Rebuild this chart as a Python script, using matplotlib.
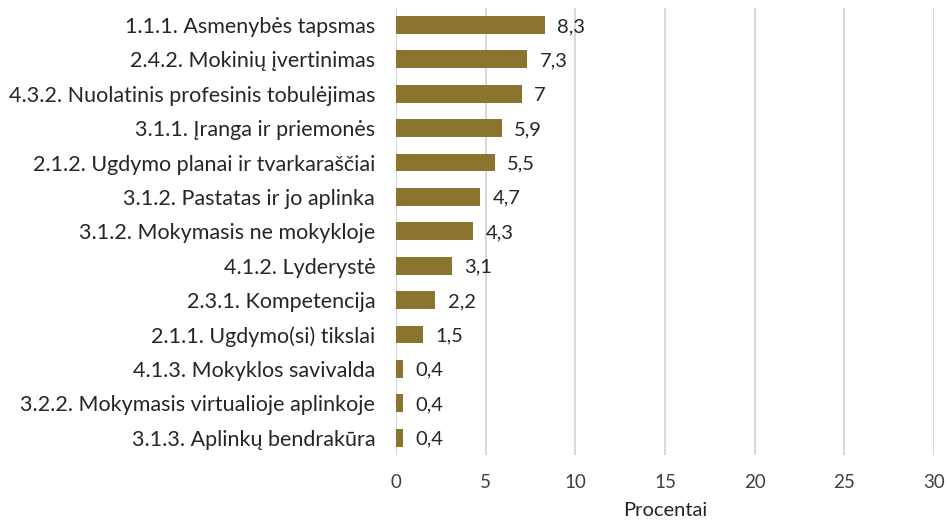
import matplotlib.pyplot as plt

categories = [
    "1.1.1. Asmenybės tapsmas",
    "2.4.2. Mokinių įvertinimas",
    "4.3.2. Nuolatinis profesinis tobulėjimas",
    "3.1.1. Įranga ir priemonės",
    "2.1.2. Ugdymo planai ir tvarkaraščiai",
    "3.1.2. Pastatas ir jo aplinka",
    "3.1.2. Mokymasis ne mokykloje",
    "4.1.2. Lyderystė",
    "2.3.1. Kompetencija",
    "2.1.1. Ugdymo(si) tikslai",
    "4.1.3. Mokyklos savivalda",
    "3.2.2. Mokymasis virtualioje aplinkoje",
    "3.1.3. Aplinkų bendrakūra",
]
values = [8.3, 7.3, 7.0, 5.9, 5.5, 4.7, 4.3, 3.1, 2.2, 1.5, 0.4, 0.4, 0.4]
x_ticks = [0, 5, 10, 15, 20, 25, 30]

plt.rcParams['font.family'] = ['Lato', 'DejaVu Sans']

fig = plt.figure(figsize=(9.46, 5.21), dpi=100)
ax = fig.add_axes([0.4186, 0.127, 0.5686, 0.858])

pos = list(range(len(categories)))
ax.barh(pos, values, height=0.52, color="#8B742E", zorder=3)

for p, v in zip(pos, values):
    label = f"{v:g}".replace(".", ",")
    ax.annotate(label, (v, p), xytext=(9, -1), textcoords="offset points",
                va="center", ha="left", fontsize=14.5, color="#262626", zorder=4)

ax.set_yticks(pos)
ax.set_yticklabels(categories, fontsize=15.5, color="#262626")
ax.set_ylim(len(categories) - 0.5, -0.5)
ax.set_xlim(0, 30)
ax.set_xticks(x_ticks)
ax.set_xticklabels([str(t) for t in x_ticks], fontsize=13.5, color="#404040")
ax.tick_params(length=0)
ax.tick_params(axis="y", pad=15)
ax.tick_params(axis="x", pad=14)
ax.set_xlabel("Procentai", fontsize=14.5, color="#262626", labelpad=8)

ax.grid(axis="x", color="#D9D9D9", linewidth=1.5, zorder=0)
for s in ax.spines.values():
    s.set_visible(False)

fig.savefig("out.png", dpi=100)
